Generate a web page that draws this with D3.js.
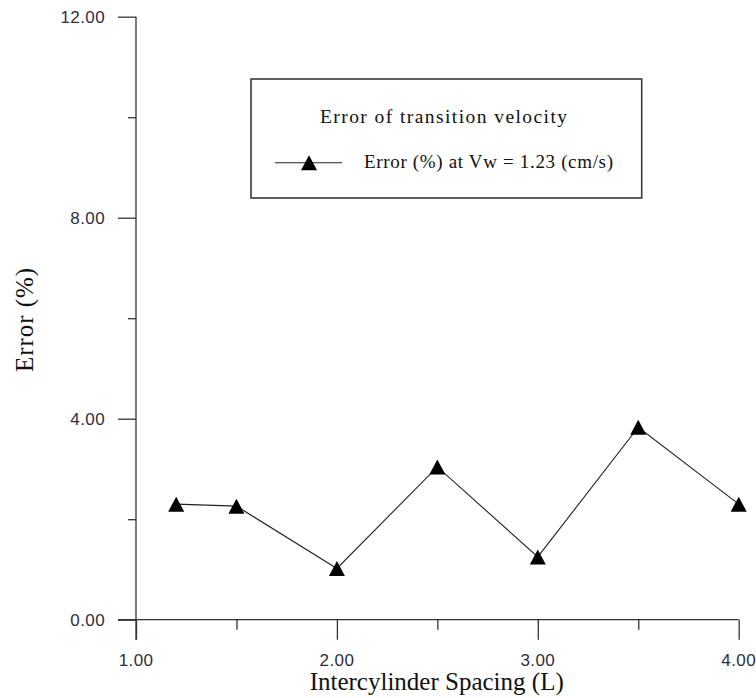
<!DOCTYPE html>
<html>
<head>
<meta charset="utf-8">
<script src="https://cdn.jsdelivr.net/npm/d3@7"></script>
<style>
  html, body { margin: 0; padding: 0; background: #fff; }
  svg { display: block; }
</style>
</head>
<body>
<svg id="chart" width="756" height="698"></svg>
<script>
// ---- data ----
const spacing = [1.2, 1.5, 2.0, 2.5, 3.0, 3.5, 4.0];
const errorPct = [2.30, 2.26, 1.02, 3.04, 1.25, 3.83, 2.30];
const xMajorTicks = [1, 2, 3, 4];
const xMinorTicks = [1.5, 2.5, 3.5];
const yMajorTicks = [0, 4, 8, 12];
const yMinorTicks = [2, 6, 10];
const xTitle = "Intercylinder Spacing (L)";
const yTitle = "Error (%)";
const legendTitle = "Error of transition velocity";
const seriesName = "Error (%) at Vw = 1.23 (cm/s)";

const svg = d3.select("#chart");
const x = d3.scaleLinear().domain([1, 4]).range([136, 738.7]);
const y = d3.scaleLinear().domain([0, 12]).range([619.7, 16.7]);

const axisColor = "#333";
const labelColor = "#2e2e40";
const fmt = d3.format(".2f");

// axes lines
const gx = svg.append("g").attr("transform", `translate(0,${y(0)})`);
gx.call(d3.axisBottom(x).tickValues(xMajorTicks).tickSize(20).tickFormat(""));
const gxm = svg.append("g").attr("transform", `translate(0,${y(0)})`);
gxm.call(d3.axisBottom(x).tickValues(xMinorTicks).tickSize(10).tickFormat(""));
const gy = svg.append("g").attr("transform", `translate(${x(1)},0)`);
gy.call(d3.axisLeft(y).tickValues(yMajorTicks).tickSize(18).tickFormat(""));
const gym = svg.append("g").attr("transform", `translate(${x(1)},0)`);
gym.call(d3.axisLeft(y).tickValues(yMinorTicks).tickSize(8).tickFormat(""));

[gx, gxm, gy, gym].forEach(g => {
  g.select(".domain").attr("stroke", axisColor).attr("stroke-width", 1.3);
  g.selectAll(".tick line").attr("stroke", axisColor).attr("stroke-width", 1.3);
});
gxm.select(".domain").remove();
gym.select(".domain").remove();
gx.select(".domain").attr("d", `M${x(1) - 18},0H${x(4)}`);
gy.select(".domain").attr("d", `M0,${y(12)}V${y(0) + 20}`);

// tick labels
svg.append("g").selectAll("text").data(yMajorTicks).join("text")
  .attr("x", 105).attr("y", d => y(d)).attr("dy", "0.36em")
  .attr("text-anchor", "end")
  .attr("font-family", "Arial, 'Liberation Sans', sans-serif")
  .attr("font-size", 17).attr("letter-spacing", 0.4)
  .attr("fill", labelColor).text(d => fmt(d));

svg.append("g").selectAll("text").data(xMajorTicks).join("text")
  .attr("x", d => x(d)).attr("y", 665.5)
  .attr("text-anchor", "middle")
  .attr("font-family", "Arial, 'Liberation Sans', sans-serif")
  .attr("font-size", 17).attr("letter-spacing", 0.4)
  .attr("fill", labelColor).text(d => fmt(d));

// axis titles
svg.append("text")
  .attr("x", 436.7).attr("y", 690)
  .attr("text-anchor", "middle")
  .attr("font-family", "'Times New Roman', 'Liberation Serif', serif")
  .attr("font-size", 25).attr("fill", "#111")
  .text(xTitle);

svg.append("text")
  .attr("transform", `translate(33,320) rotate(-90)`)
  .attr("text-anchor", "middle")
  .attr("font-family", "'Times New Roman', 'Liberation Serif', serif")
  .attr("font-size", 25).attr("fill", "#111")
  .attr("textLength", 104).attr("lengthAdjust", "spacing")
  .text(yTitle);

// data line
const line = d3.line().x((d, i) => x(spacing[i])).y(d => y(d));
svg.append("path")
  .datum(errorPct)
  .attr("fill", "none").attr("stroke", "#222").attr("stroke-width", 1.1)
  .attr("d", line);

const tri = "M0,-7.5L8,7.5L-8,7.5Z";
svg.append("g").selectAll("path").data(errorPct).join("path")
  .attr("transform", (d, i) => `translate(${x(spacing[i])},${y(d)})`)
  .attr("d", tri).attr("fill", "#000");

// legend
const lg = svg.append("g");
lg.append("rect")
  .attr("x", 251).attr("y", 79).attr("width", 390.7).attr("height", 119)
  .attr("fill", "#fff").attr("stroke", "#3a3a3a").attr("stroke-width", 1.6);
lg.append("text")
  .attr("x", 320).attr("y", 123.3)
  .attr("font-family", "'Times New Roman', 'Liberation Serif', serif")
  .attr("font-size", 19.5).attr("fill", "#111")
  .attr("textLength", 247).attr("lengthAdjust", "spacing")
  .text(legendTitle);
lg.append("line")
  .attr("x1", 275).attr("x2", 342).attr("y1", 162.7).attr("y2", 162.7)
  .attr("stroke", "#222").attr("stroke-width", 1.1);
lg.append("path")
  .attr("transform", "translate(309,162.7)")
  .attr("d", tri).attr("fill", "#000");
lg.append("text")
  .attr("x", 364).attr("y", 168)
  .attr("font-family", "'Times New Roman', 'Liberation Serif', serif")
  .attr("font-size", 19).attr("fill", "#111")
  .attr("textLength", 249).attr("lengthAdjust", "spacing")
  .text(seriesName);
</script>
</body>
</html>
